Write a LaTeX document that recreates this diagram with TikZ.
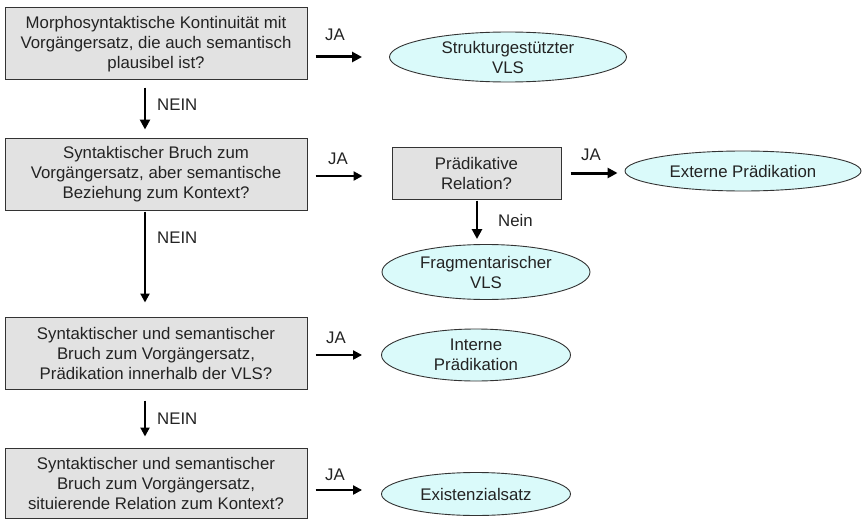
\documentclass[tikz,border=0pt]{standalone}
\usepackage{fontspec}
\setmainfont{Liberation Sans}
\usetikzlibrary{arrows.meta,shapes.geometric}
\definecolor{boxgray}{RGB}{226,226,226}
\definecolor{ellcyan}{RGB}{218,250,250}
\definecolor{txt}{RGB}{35,35,35}
\begin{document}
\begin{tikzpicture}[x=1pt,y=-1pt,
  every node/.style={text=txt,font=\fontsize{16.8}{20}\selectfont},
  qbox/.style={draw=black!80,line width=1pt,fill=boxgray,minimum width=302pt,minimum height=72pt,align=center,inner sep=0pt},
  pbox/.style={draw=black!80,line width=1pt,fill=boxgray,minimum width=169pt,minimum height=52pt,align=center,inner sep=0pt},
  res/.style={ellipse,draw=black!80,line width=0.9pt,fill=ellcyan,align=center,inner sep=0pt},
  arr/.style={line width=2.2pt,-{Triangle[length=9pt,width=9pt]}},
  arrthick/.style={line width=3pt,-{Triangle[length=10pt,width=10pt]}},
  lab/.style={inner sep=0pt}]
\useasboundingbox (0,0) rectangle (862,519);
\node[qbox] (b1) at (156,44) {Morphosyntaktische Kontinuität mit\\Vorgängersatz, die auch semantisch\\plausibel ist?};
\node[qbox] (b2) at (156,174) {Syntaktischer Bruch zum\\Vorgängersatz, aber semantische\\Beziehung zum Kontext?};
\node[qbox] (b3) at (156,353) {Syntaktischer und semantischer\\Bruch zum Vorgängersatz,\\Prädikation innerhalb der VLS?};
\node[qbox,minimum height=70pt] (b4) at (156,483) {Syntaktischer und semantischer\\Bruch zum Vorgängersatz,\\situierende Relation zum Kontext?};
\node[pbox] (pr) at (476.5,173) {Prädikative\\Relation?};
\node[res,minimum width=237pt,minimum height=50pt] (e1) at (508,57) {Strukturgestützter\\VLS};
\node[res,minimum width=236pt,minimum height=40pt] (e2) at (743,171) {Externe Prädikation};
\node[res,minimum width=208pt,minimum height=55pt] (e3) at (486,272) {Fragmentarischer\\VLS};
\node[res,minimum width=189pt,minimum height=52pt] (e4) at (476,355) {Interne\\Prädikation};
\node[res,minimum width=189pt,minimum height=43pt] (e5) at (476,494) {Existenzialsatz};
% JA arrows
\draw[arrthick,shorten <=8pt,shorten >=27pt] (b1.east |- e1.west) -- (e1.west);
\draw[arr,shorten <=8pt,shorten >=29pt] ([yshift=-2pt]b2.east) -- ([yshift=-2pt]b2.east -| pr.west);
\draw[arrthick,shorten <=9pt,shorten >=7pt] (pr.east) -- (pr.east -| e2.west);
\draw[arr,shorten <=8pt,shorten >=19pt] ([yshift=-2pt]b3.east) -- ([yshift=-2pt]b3.east -| e4.west);
\draw[arr,shorten <=8pt,shorten >=19pt] ([yshift=-7pt]b4.east) -- ([yshift=-7pt]b4.east -| e5.west);
\node[lab] (ja1) at (335,35) {JA};
\node[lab] (ja2) at (338,159) {JA};
\node[lab] (ja3) at (591,155) {JA};
\node[lab] (ja4) at (336,338) {JA};
\node[lab] (ja5) at (335,475) {JA};
% NEIN arrows
\draw[arrthick,line width=2.6pt,shorten <=7pt,shorten >=8pt] ([xshift=-11pt]b1.south) -- ([xshift=-11pt]b2.north);
\draw[arr,shorten <=1pt,shorten >=14pt] ([xshift=-11pt]b2.south) -- ([xshift=-11pt]b3.north);
\draw[arr,shorten <=11pt,shorten >=11pt] ([xshift=-11pt]b3.south) -- ([xshift=-11pt]b4.north);
\draw[arrthick,line width=2.6pt,shorten <=1pt,shorten >=5pt] ([xshift=0.5pt]pr.south) -- ([xshift=0.5pt]pr.south |- e3.north);
\node[lab,anchor=west] (n1) at (157,105) {NEIN};
\node[lab,anchor=west] (n2) at (157,238) {NEIN};
\node[lab,anchor=west] (n3) at (157,419) {NEIN};
\node[lab,anchor=west] (n4) at (498,220) {Nein};
\end{tikzpicture}
\end{document}
